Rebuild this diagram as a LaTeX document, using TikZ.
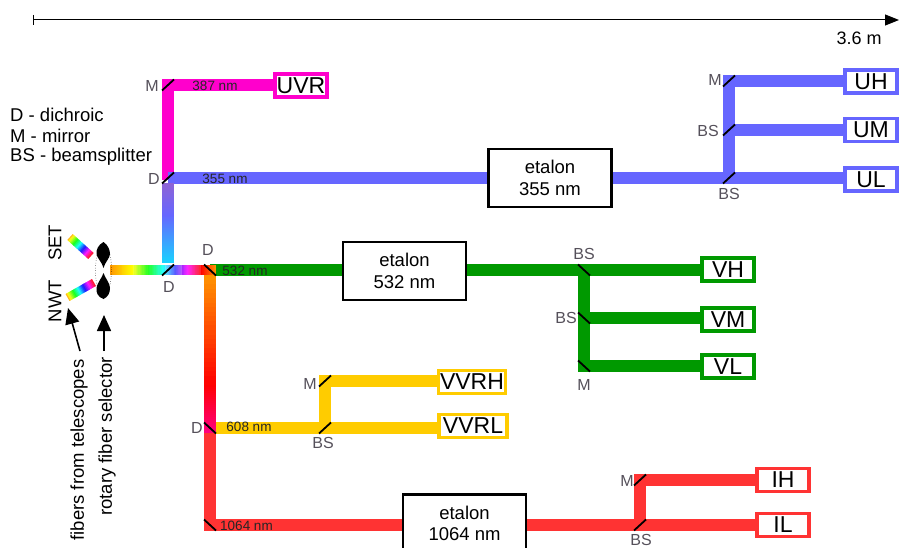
\documentclass[tikz,border=0pt]{standalone}
\usepackage{fontspec}
\setmainfont{Liberation Sans}
\usetikzlibrary{calc,arrows.meta,shapes.geometric}
\definecolor{cMag}{HTML}{FF00CC}
\definecolor{cBlue}{HTML}{6666FF}
\definecolor{cGreen}{HTML}{009900}
\definecolor{cYel}{HTML}{FFCC00}
\definecolor{cRed}{HTML}{FF3333}
\definecolor{cGray}{HTML}{55505A}
\def\rs{1}
\newcommand{\rbw}[5]{% from, to, hue start, hue end, width
  \foreach \ii in {0,...,23}{%
    \pgfmathsetmacro{\hh}{#3+(#4-#3)*(\ii+0.5)/24}%
    \pgfmathsetmacro{\ta}{\ii/24}%
    \pgfmathsetmacro{\tb}{min(1,(\ii+1.5)/24)}%
    \definecolor{tmpc}{Hsb}{\hh,\rs,1}%
    \draw[line width=#5,tmpc] ($(#1)!\ta!(#2)$) -- ($(#1)!\tb!(#2)$);
  }}
\tikzset{
  beam/.style={line width=11.5pt,#1},
  mir/.style={line width=1.8pt,black},
  lab/.style={text=cGray,font=\fontsize{16}{18}\selectfont,inner sep=0pt},
  wl/.style={text=black!85,font=\fontsize{13.5}{15}\selectfont,inner sep=0pt},
  out/.style={draw=#1,line width=3.5pt,fill=white,inner sep=0pt,text=black,font=\fontsize{23}{25}\selectfont,minimum height=23pt},
  etal/.style={draw=black,line width=2.5pt,fill=white,align=center,inner sep=0pt,minimum width=123pt,minimum height=58pt,font=\fontsize{18.5}{21.5}\selectfont},
  txt/.style={inner sep=0pt,font=\fontsize{18.5}{20}\selectfont,anchor=west},
  sidet/.style={inner sep=0pt,rotate=90,font=\fontsize{#1}{20}\selectfont},
  bigarrow/.style={line width=1.6pt,-{Triangle[length=16pt,width=14pt]}}
}
\begin{document}
\begin{tikzpicture}[x=1pt,y=-1pt]
\useasboundingbox (0,0) rectangle (899,548);
\clip (0,0) rectangle (899,548);
% junctions
\coordinate (start) at (110,270);
\coordinate (jA) at (168,270);
\coordinate (jB) at (210,270);
\coordinate (jC) at (168,178);
\coordinate (jD) at (168,85);
\coordinate (jE) at (210,428);
\coordinate (jF) at (210,525);
\coordinate (jG) at (325,428);
\coordinate (jH) at (325,381);
\coordinate (jI) at (584,270);
\coordinate (jJ) at (584,318);
\coordinate (jK) at (584,366);
\coordinate (jL) at (729,178);
\coordinate (jM) at (729,130);
\coordinate (jN) at (729,81);
\coordinate (jO) at (640,525);
\coordinate (jP) at (640,480);
% boxes
\node[out=cMag,minimum width=52pt] (uvr) at (301,85.5) {UVR};
\node[out=cBlue,minimum width=52pt] (uh) at (871,81.5) {UH};
\node[out=cBlue,minimum width=52pt] (um) at (871,130) {UM};
\node[out=cBlue,minimum width=52pt] (ul) at (871,179.5) {UL};
\node[out=cGreen,minimum width=52pt] (vh) at (728,269.5) {VH};
\node[out=cGreen,minimum width=52pt] (vm) at (728,319.5) {VM};
\node[out=cGreen,minimum width=52pt] (vl) at (728,366.5) {VL};
\node[out=cYel,minimum width=67pt] (vvrh) at (472,382) {VVRH};
\node[out=cYel,minimum width=68pt] (vvrl) at (473,426) {VVRL};
\node[out=cRed,minimum width=52pt] (ih) at (783,480) {IH};
\node[out=cRed,minimum width=52pt] (il) at (783,525) {IL};
\node[etal] (e355) at (550,178) {etalon\\355 nm};
\node[etal] (e532) at (404.5,271) {etalon\\532 nm};
\node[etal] (e1064) at (464.5,523.5) {etalon\\1064 nm};
% beams
\draw[beam=cMag] (jD -| uvr.west) -- (jD) -- ([yshift=-2pt]jC);
\draw[beam=cBlue] (jC) -- (jC -| e355.west);
\draw[beam=cBlue] (jL -| e355.east) -- (jL -| ul.west);
\draw[beam=cBlue] (jL) -- (jN) -- (jN -| uh.west);
\draw[beam=cBlue] (jM) -- (jM -| um.west);
\draw[beam=cGreen] (jB) -- (jB -| e532.west);
\draw[beam=cGreen] (jI -| e532.east) -- (jI -| vh.west);
\draw[beam=cGreen] (jI) -- (jK) -- (jK -| vl.west);
\draw[beam=cGreen] (jJ) -- (jJ -| vm.west);
\draw[beam=cYel] (jE) -- (jE -| vvrl.west);
\draw[beam=cYel] (jG) -- (jH) -- (jH -| vvrh.west);
\draw[beam=cRed,line join=miter] ([yshift=6pt]jE) -- (jF) -- (jF -| e1064.west);
\draw[beam=cRed] (jO -| e1064.east) -- (jO -| il.west);
\draw[beam=cRed] (jO) -- (jP) -- (jP -| ih.west);
% rainbow parts
\shade[bottom color=cyan!80!blue!90!white,top color=cBlue] (162.2,262) rectangle (173.8,215);
\shade[bottom color=cBlue,top color=cBlue!60!violet!80!white] (162.2,215) rectangle (173.8,184);
\coordinate (r1) at (133,270);\coordinate (r2) at (165,270);
\coordinate (r3) at (182,270);\coordinate (r4) at (201,270);
\coordinate (r5) at (216,270);
\rbw{start}{r1}{35}{60}{10pt}
\def\rs{.85}
\rbw{r1}{r2}{60}{185}{10pt}
\def\rs{.65}
\rbw{r2}{r3}{185}{275}{10pt}
\def\rs{.85}
\rbw{r3}{r4}{275}{360}{10pt}
\def\rs{1}
\rbw{r4}{r5}{0}{35}{10pt}
\coordinate (v0) at (210,275);\coordinate (v1) at (210,385);\coordinate (v2) at (210,433);
\rbw{v0}{v1}{35}{0}{11.5pt}
\rbw{v1}{v2}{360}{330}{11.5pt}
\coordinate (s1) at (70,237);\coordinate (s2) at (91,256);
\def\rs{.9}
\rbw{s1}{s2}{35}{360}{8pt}
\coordinate (n1) at (67.5,297.5);\coordinate (n2) at (94,282.5);
\rbw{n1}{n2}{35}{360}{8pt}
\def\rs{1}
% selector
\node[draw=black,line width=.5pt,dotted,ellipse,inner sep=0pt,minimum width=16pt,minimum height=52pt] (ring) at (103.5,270) {};
\coordinate (sT) at (103.5,242);\coordinate (sB) at (103.5,299);\coordinate (sC) at (103.5,270);
\fill (sT) .. controls (98,245) and (96,250) .. (96.5,254) .. controls (97,258) and (102,262) .. (103.5,268)
  .. controls (105,262) and (110,258) .. (110,254) .. controls (110,250) and (108,245) .. (sT);
\fill (sB) .. controls (98,297) and (96,293) .. (96.5,288) .. controls (97,283) and (102,278) .. (103.5,273)
  .. controls (105,278) and (110,283) .. (110,288) .. controls (110,293) and (108,297) .. (sB);
% mirrors
\foreach \c/\sx/\sy in {jC/1/-1,jD/1/-1,jA/1/-1,jG/1/-1,jH/1/-1,jL/1/-1,jM/1/-1,jN/1/-1,jO/1/-1,jP/1/-1,jI/-1/-1,jJ/-1/-1,jK/-1/-1,jB/-1/-1,jE/-1/-1,jF/-1/-1}
  \draw[mir] ($(\c)+(-6*\sx,-5.5*\sy)$) -- ($(\c)+(6*\sx,5.5*\sy)$);
% labels on beams
\node[wl] (w387) at (215,86) {387 nm};
\node[wl] (w355) at (225,179) {355 nm};
\node[wl] (w532) at (245,271) {532 nm};
\node[wl] (w608) at (249,427) {608 nm};
\node[wl] (w1064) at (246.5,526) {1064 nm};
% component labels
\node[lab] (l1) at (152,86) {M};
\node[lab] (l2) at (154,179) {D};
\node[lab] (l3) at (208,250) {D};
\node[lab] (l4) at (169,287) {D};
\node[lab] (l5) at (197,428) {D};
\node[lab] (l6) at (323,443) {BS};
\node[lab] (l7) at (310,384) {M};
\node[lab] (l8) at (584,254) {BS};
\node[lab] (l9) at (566,318) {BS};
\node[lab] (l10) at (584,385) {M};
\node[lab] (l11) at (729,194) {BS};
\node[lab] (l12) at (708,131) {BS};
\node[lab] (l13) at (715,80) {M};
\node[lab] (l14) at (627,481) {M};
\node[lab] (l15) at (641,539.5) {BS};
% legend
\node[txt] (t1) at (10,115) {D - dichroic};
\node[txt] (t2) at (10,136) {M - mirror};
\node[txt] (t3) at (10,157) {BS - beamsplitter};
% side text
\node[sidet=18.5] (set) at (55,243) {SET};
\node[sidet=18.5] (nwt) at (55,301) {NWT};
\node[sidet=18.5] (fib) at (79,450) {fibers from telescopes};
\node[sidet=18.5] (rot) at (107,436.5) {rotary fiber selector};
\coordinate (a1) at (80,351);\coordinate (a2) at (68,308);
\coordinate (a3) at (104,351);\coordinate (a4) at (104,315);
\draw[bigarrow] (a1) -- (a2);
\draw[bigarrow] (a3) -- (a4);
% scale
\coordinate (b0) at (33,20);\coordinate (b1) at (899,20);
\draw[line width=1pt,-{Triangle[length=14pt,width=11pt]}] (b0) -- (b1);
\draw[line width=1pt] (33,15) -- (33,25);
\node[inner sep=0pt,font=\fontsize{18}{20}\selectfont] (len) at (859,38) {3.6 m};
\end{tikzpicture}
\end{document}
